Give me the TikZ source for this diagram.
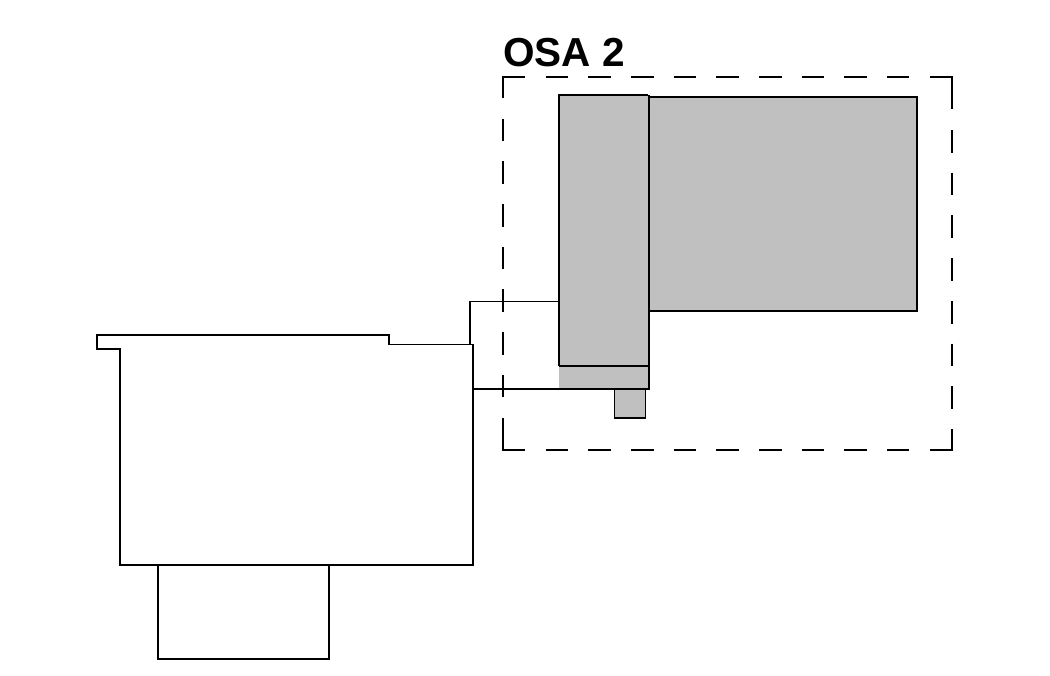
\documentclass[tikz,border=0pt]{standalone}
\usepackage{fontspec}
\setmainfont{Liberation Sans}
\definecolor{panelgray}{HTML}{C0C0C0}
\tikzset{
  outline/.style={draw=black,line width=1.7pt,line join=miter},
  filled/.style={fill=panelgray,draw=none},
  heavy/.style={draw=black,line width=2.4pt},
  osacorner/.style={draw=black,line width=1.9pt,line join=miter},
  osaside/.style={draw=black,line width=1.9pt,dash pattern=on 22.7pt off 20pt},
  osalabel/.style={font=\bfseries\fontsize{40.5}{40.5}\selectfont,anchor=base west,inner sep=0pt}
}
\begin{document}
\begin{tikzpicture}[x=1pt,y=-1pt]
\useasboundingbox (0,0) rectangle (1050,675);
% gray parts
\fill[filled] (650,97) rectangle (917,311);
\fill[filled] (559,95) rectangle (650,389);
\fill[filled] (614.5,389) rectangle (645.5,418);
% outlines of gray parts
\draw[outline] (650,97) -- (917,97) -- (917,311) -- (650,311);
\draw[outline] (559,366) -- (559,95) -- (648,95);
\draw[heavy] (559,366) -- (649,366);
\draw[heavy] (649,95) -- (649,390);
\draw[outline] (614.5,389) -- (614.5,418) -- (645.5,418) -- (645.5,389);
% lower-left housing
\draw[outline] (97,335) -- (389,335) -- (389,344.5) -- (472.9,344.5) -- (472.9,565) -- (119.9,565) -- (119.9,349) -- (97,349) -- cycle;
\draw[outline] (158,565) -- (158,659) -- (329,659) -- (329,565);
% links to the gray part
\draw[outline] (470,344.5) -- (470,301.5) -- (559,301.5);
\draw[outline] (472.9,389) -- (650,389);
% frame: each side has its own dash phase
\draw[osacorner] (502.9,98) -- (502.9,76.9) -- (525,76.9);
\draw[osacorner] (930,76.9) -- (952,76.9) -- (952,109);
\draw[osacorner] (930,450) -- (952,450) -- (952,428.5);
\draw[osacorner] (525,450) -- (502.9,450) -- (502.9,417.5);
\draw[osaside] (545.5,76.9) -- (909,76.9);
\draw[osaside] (545.5,450) -- (909,450);
\draw[osaside] (502.9,118.5) -- (502.9,398);
\draw[osaside] (952,130) -- (952,408.5);
\node[osalabel] (osa) at (503,66) {OSA 2};
\end{tikzpicture}
\end{document}
